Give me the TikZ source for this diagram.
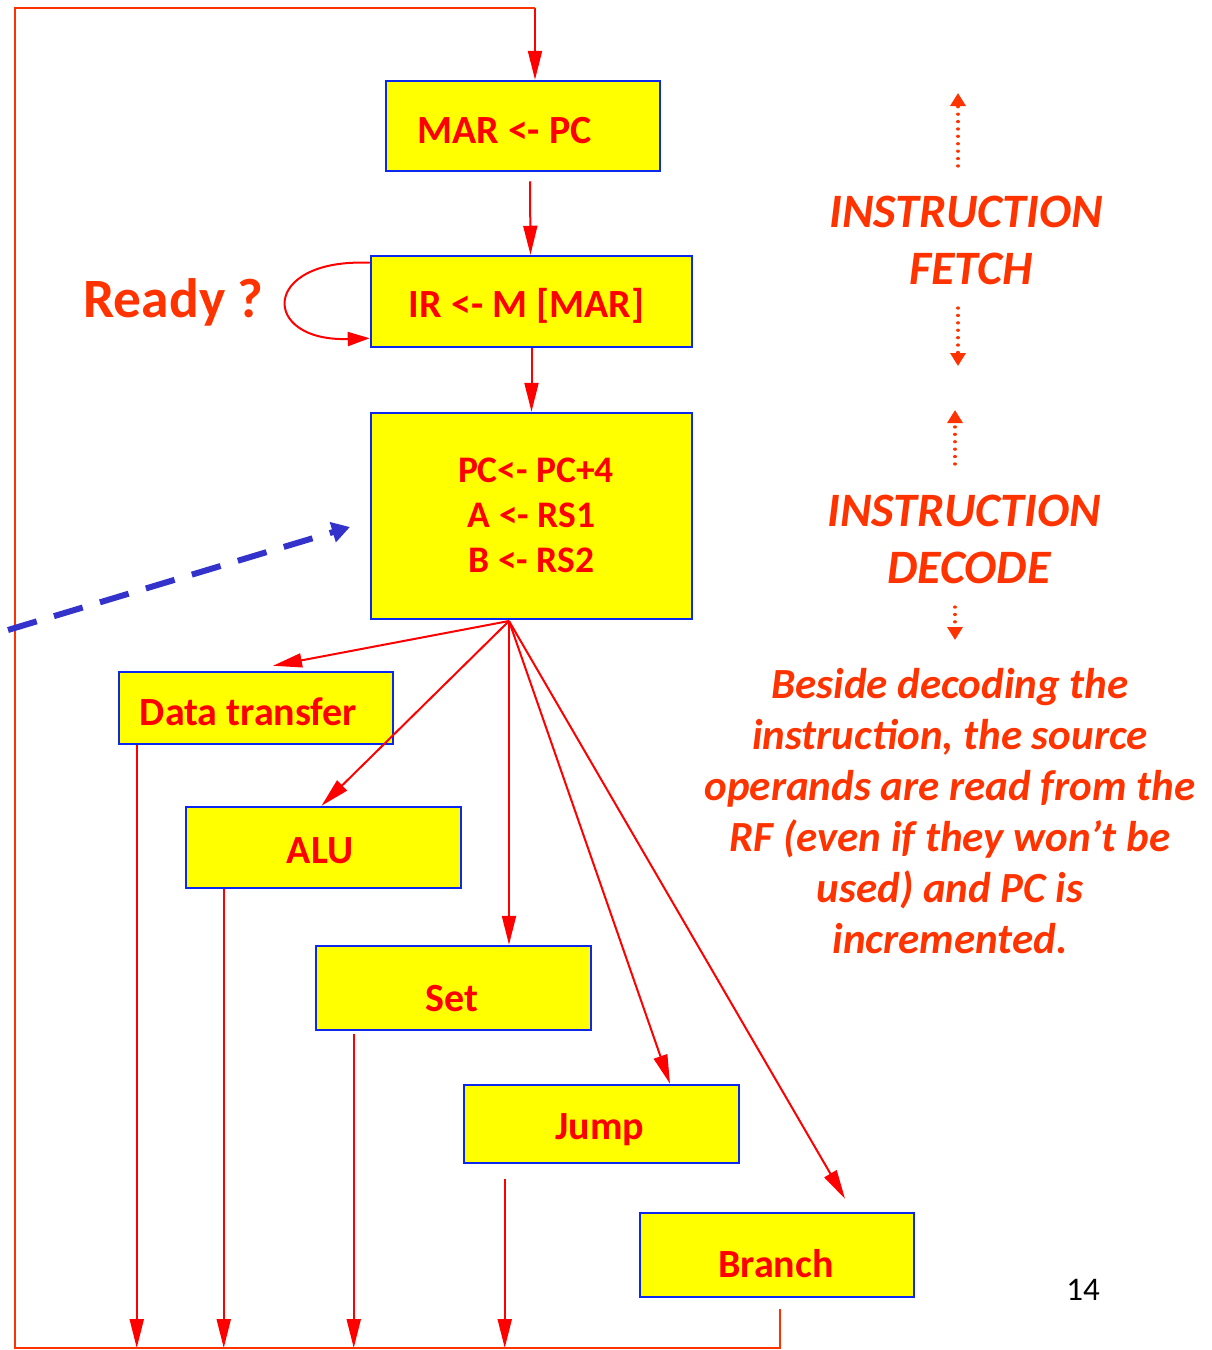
\documentclass[tikz,border=0pt]{standalone}
\usepackage{fontspec}
\setmainfont{Carlito}
\usetikzlibrary{arrows.meta,calc}
\definecolor{boxred}{HTML}{FF0000}
\definecolor{orred}{HTML}{FF3300}
\definecolor{boxblue}{HTML}{0A28EE}
\definecolor{dashblue}{HTML}{3333CC}
\definecolor{boxyellow}{HTML}{FFFF00}

\begin{document}
\begin{tikzpicture}[x=1pt,y=-1pt,
  opbox/.style={draw=boxblue, line width=2.5pt, fill=boxyellow, inner sep=0pt},
  boxtxt/.style={text=boxred, anchor=base, inner sep=0pt, font=\fontsize{40}{45}\selectfont\bfseries},
  pctxt/.style={boxtxt, font=\fontsize{37.5}{45}\selectfont\bfseries},
  phase/.style={text=orred, anchor=base, inner sep=0pt, align=center, font=\fontsize{48}{57}\selectfont\bfseries\itshape},
  note/.style={text=orred, anchor=base, inner sep=0pt, align=center, font=\fontsize{43}{51}\selectfont\bfseries\itshape},
  flow/.style={draw=boxred, line width=2pt, -{Triangle[length=29pt,width=14pt]}},
  loopline/.style={draw=orred, line width=2pt},
  hint/.style={draw=orred, line width=3.2pt, line cap=round, dash pattern=on 0.1pt off 7.3pt, -{Triangle[length=13pt,width=15pt]}},
]
\useasboundingbox (0,0) rectangle (1211,1350);

% boxes of the state diagram
\node[opbox, minimum width=274pt, minimum height=90pt]  (mar)    at (523,126)    {};
\node[opbox, minimum width=321pt, minimum height=91pt]  (ir)     at (531.5,301.5) {};
\node[opbox, minimum width=321pt, minimum height=206pt] (pc)     at (531.5,516)  {};
\node[opbox, minimum width=274pt, minimum height=72pt]  (dt)     at (256,708)    {};
\node[opbox, minimum width=275pt, minimum height=81pt]  (alu)    at (323.5,847.5) {};
\node[opbox, minimum width=275pt, minimum height=84pt]  (set)    at (453.5,988)  {};
\node[opbox, minimum width=275pt, minimum height=78pt]  (jump)   at (601.5,1124) {};
\node[opbox, minimum width=274pt, minimum height=84pt]  (branch) at (777,1255)   {};

% box texts
\node[boxtxt] (marT)  at (504.5,143)  {MAR <- PC};
\node[boxtxt] (irT)   at (526.5,317)  {IR <- M [MAR]};
\node[pctxt]  (pcT1)  at (536,482)  {PC<- PC+4};
\node[pctxt]  (pcT2)  at (531.5,527)  {A <- RS1};
\node[pctxt]  (pcT3)  at (531.5,572)  {B <- RS2};
\node[boxtxt] (dtT)   at (248.5,725)  {Data transfer};
\node[boxtxt] (aluT)  at (320,863)  {ALU};
\node[boxtxt] (setT)  at (452,1011) {Set};
\node[boxtxt] (jumpT) at (600,1139) {Jump};
\node[boxtxt] (brT)   at (776,1277) {Branch};

% wait label and self loop
\node[text=orred, anchor=base, inner sep=0pt, font=\fontsize{55.5}{60}\selectfont\bfseries] (ready) at (173.5,317) {Ready ?};
\draw[flow, -{Triangle[length=22pt,width=14pt]}] ([yshift=-8pt]ir.north west) .. controls (260,258) and (260,342) .. ([yshift=10pt]ir.south west);

% fetch and decode sequence
\coordinate (top) at (535,8);
\draw[flow] (top) -- ([xshift=12pt]mar.north);
\draw[flow] ([xshift=7pt,yshift=-9pt]mar.south) -- ([xshift=-1pt]ir.north);
\draw[flow] (ir.south) -- (pc.north);

% dispatch fan
\coordinate (fan) at (509,621);
\draw[flow] (fan) -- ([xshift=17pt,yshift=5pt]dt.north);
\draw[flow] (fan) -- ([xshift=-2pt]alu.north);
\draw[flow] (fan) -- ([xshift=55.5pt]set.north);
\draw[flow] (fan) -- ([xshift=68.5pt]jump.north);
\draw[flow] (fan) -- ([xshift=68pt,yshift=13pt]branch.north);

% return paths
\coordinate (bl) at (15,1348);
\coordinate (br) at (780,1348);
\draw[flow] ([xshift=19pt]dt.south west) -- ([xshift=19pt]dt.south west |- bl);
\draw[flow] ([xshift=39pt]alu.south west) -- ([xshift=39pt]alu.south west |- bl);
\draw[flow] ([xshift=39pt,yshift=-3pt]set.south west) -- ([xshift=39pt]set.south west |- bl);
\draw[flow] ([xshift=42pt,yshift=-15pt]jump.south west) -- ([xshift=42pt]jump.south west |- bl);
\draw[loopline] ([xshift=3pt,yshift=-11pt]branch.south) -- (br) -- (bl) -- (15,8) -- (top);

% blue dashed pointer
\coordinate (dashS) at (8,630);
\coordinate (dashE) at (350,527);
\draw[dashblue, line width=6pt, dash pattern=on 30pt off 18pt, -{Triangle[length=18pt,width=20pt]}] (dashS) -- (dashE);

% phase annotations (anchored at the baseline of the last line)
\node[phase] (fetch) at (966,284) {INSTRUCTION\\[0pt]\hspace*{10pt}FETCH};
\node[phase] (decode) at (964,583) {INSTRUCTION\\[0pt]\hspace*{10pt}DECODE};
\coordinate (fu1) at (958,166); \coordinate (fu2) at (958,93);
\coordinate (fd1) at (958,308); \coordinate (fd2) at (958,366);
\coordinate (du1) at (955,464); \coordinate (du2) at (955,410);
\coordinate (dd1) at (955,607); \coordinate (dd2) at (955,640);
\draw[hint] (fu1) -- (fu2);
\draw[hint] (fd1) -- (fd2);
\draw[hint] (du1) -- (du2);
\draw[hint] (dd1) -- (dd2);

\node[note] (desc) at (950,953) {Beside decoding the\\instruction, the source\\operands are read from the\\RF (even if they won't be\\used) and PC is\\incremented.};

% page number
\node[anchor=base, inner sep=0pt, font=\fontsize{33}{36}\selectfont] (pg) at (1083,1300) {14};
\end{tikzpicture}
\end{document}
